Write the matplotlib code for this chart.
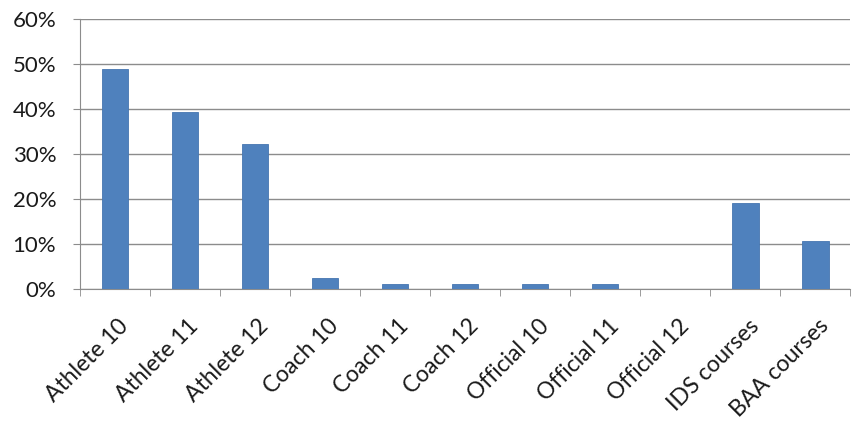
import numpy as np
import matplotlib
matplotlib.use("Agg")
import matplotlib.pyplot as plt
import matplotlib.transforms as mtransforms
from matplotlib.ticker import FuncFormatter

categories = ["Athlete 10", "Athlete 11", "Athlete 12", "Coach 10", "Coach 11",
              "Coach 12", "Official 10", "Official 11", "Official 12",
              "IDS courses", "BAA courses"]
values = [48.9, 39.3, 32.2, 2.4, 1.1, 1.0, 1.0, 1.0, 0.0, 19.1, 10.7]
yticks = [0, 10, 20, 30, 40, 50, 60]

plt.rcParams['font.family'] = ['Lato', 'DejaVu Sans']

fig = plt.figure(figsize=(8.58, 4.28), dpi=100)
ax = fig.add_axes([0.093, 0.325, 0.898, 0.631])

x = np.arange(len(categories))
ax.bar(x, values, width=0.38, color="#4F81BD", edgecolor="#4676B0", linewidth=0.6, zorder=3)

ax.set_xlim(-0.5, len(categories) - 0.5)
ax.set_ylim(0, 60)
ax.set_yticks(yticks)
ax.yaxis.set_major_formatter(FuncFormatter(lambda v, p: f"{v:.0f}%"))
ax.grid(axis="y", color="#8C8C8C", linewidth=1.0, zorder=0)

ax.set_xticks(x)
ax.set_xticklabels(categories, rotation=45, ha="right", rotation_mode="anchor", fontsize=16.5,
                   color="#1a1a1a")
ax.tick_params(axis="x", length=0, pad=19)
shift = mtransforms.ScaledTranslation(3 / 100, 0, fig.dpi_scale_trans)
for lab in ax.get_xticklabels():
    lab.set_transform(lab.get_transform() + shift)
ax.set_xticks(np.arange(-0.5, len(categories)), minor=True)
ax.tick_params(axis="x", which="minor", length=5, color="#8C8C8C")
ax.tick_params(axis="y", labelsize=16, length=5, color="#8C8C8C", pad=12, labelcolor="#1a1a1a")

for s in ["top", "right"]:
    ax.spines[s].set_visible(False)
for s in ["left", "bottom"]:
    ax.spines[s].set_color("#8C8C8C")

fig.savefig("out.png", dpi=100)
